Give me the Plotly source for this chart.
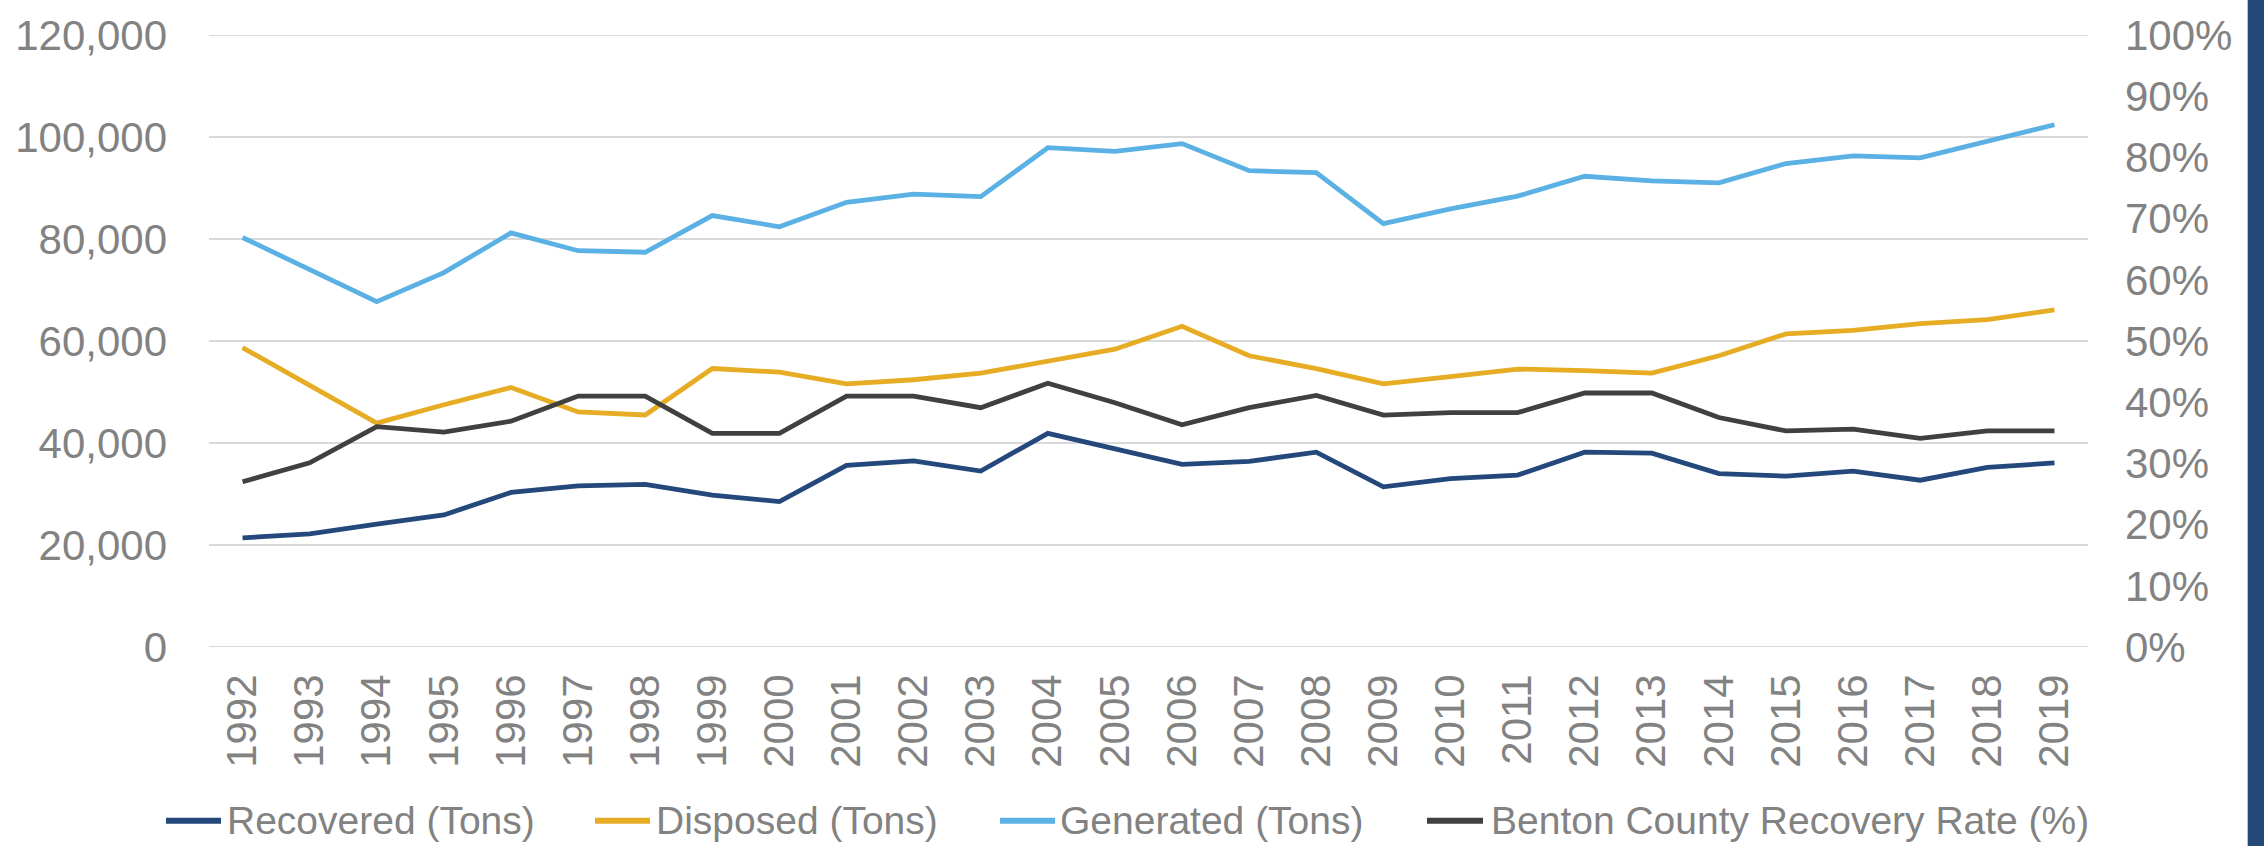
import plotly.graph_objects as go

# ---- data ----
years = ["1992", "1993", "1994", "1995", "1996", "1997", "1998", "1999", "2000",
         "2001", "2002", "2003", "2004", "2005", "2006", "2007", "2008", "2009",
         "2010", "2011", "2012", "2013", "2014", "2015", "2016", "2017", "2018", "2019"]

recovered = [21400, 22200, 24100, 25900, 30300, 31600, 31900, 29800, 28500, 35600,
             36500, 34500, 41900, 38800, 35800, 36400, 38200, 31400, 33000, 33700,
             38200, 38000, 34000, 33500, 34500, 32700, 35200, 36100]
disposed = [58700, 51400, 43900, 47500, 50900, 46100, 45500, 54600, 53900, 51600,
            52400, 53700, 56100, 58400, 62900, 57100, 54600, 51600, 53000, 54500,
            54200, 53700, 57100, 61400, 62100, 63400, 64200, 66100]
generated = [80300, 73900, 67700, 73400, 81200, 77700, 77400, 84600, 82400, 87200,
             88800, 88300, 97900, 97200, 98700, 93400, 93000, 83000, 85900, 88400,
             92300, 91400, 91000, 94800, 96300, 95900, 99200, 102400]
rate = [0.270, 0.301, 0.360, 0.351, 0.369, 0.410, 0.410, 0.349, 0.349, 0.410,
        0.410, 0.391, 0.431, 0.399, 0.363, 0.391, 0.411, 0.379, 0.383, 0.383,
        0.415, 0.415, 0.375, 0.353, 0.356, 0.341, 0.353, 0.353]

series_names = ["Recovered (Tons)", "Disposed (Tons)", "Generated (Tons)",
                "Benton County Recovery Rate (%)"]
colors = ["#24487C", "#E5AC24", "#5BB1E3", "#404040"]

y_min, y_max, y_step = 0, 120000, 20000

# ---- layout geometry ----
W, H = 2264, 846
ML, MR, MT, MB = 209, 176, 27, 199
PW, PH = W - ML - MR, H - MT - MB

def px_x(px):
    return (px - ML) / PW

def px_y(py):
    return (H - MB - py) / PH

TICK_FONT = dict(family="Liberation Sans, Arial, sans-serif", size=42, color="#828282")
LEG_FONT = dict(family="Liberation Sans, Arial, sans-serif", size=39, color="#828282")
GRID = "#D9D9D9"
LW = 4.8

fig = go.Figure()
tons = [recovered, disposed, generated]
for name, col, vals in zip(series_names[:3], colors[:3], tons):
    fig.add_trace(go.Scatter(x=years, y=vals, mode="lines", name=name,
                             line=dict(color=col, width=LW), showlegend=False,
                             yaxis="y"))
fig.add_trace(go.Scatter(x=years, y=rate, mode="lines", name=series_names[3],
                         line=dict(color=colors[3], width=LW), showlegend=False,
                         yaxis="y2"))

shapes = []
annotations = []

# edge gridlines (plotly skips grid at the exact range ends)
for v in (y_min, y_max):
    shapes.append(dict(type="line", xref="paper", yref="y", x0=0, x1=1, y0=v, y1=v,
                       line=dict(color=GRID, width=2), layer="below"))

# manual legend (sample line + text)
legend_items = [(166, 221, 225), (595, 650, 654), (1000, 1055, 1058), (1427, 1483, 1489)]
ly = px_y(823)
for (x0, x1, tx), name, col in zip(legend_items, series_names, colors):
    shapes.append(dict(type="line", xref="paper", yref="paper",
                       x0=px_x(x0), x1=px_x(x1), y0=ly, y1=ly,
                       line=dict(color=col, width=6)))
    annotations.append(dict(xref="paper", yref="paper", x=px_x(tx), y=ly,
                            xanchor="left", yanchor="middle", showarrow=False,
                            text=name, font=LEG_FONT))

# right-hand dark band
shapes.append(dict(type="rect", xref="paper", yref="paper",
                   x0=px_x(2248), x1=px_x(2270), y0=px_y(860), y1=px_y(-20),
                   fillcolor="#24477A", line=dict(width=0), layer="above"))
shapes.append(dict(type="line", xref="paper", yref="paper",
                   x0=px_x(2247.5), x1=px_x(2247.5), y0=px_y(860), y1=px_y(-20),
                   line=dict(color="#BFBFBF", width=1)))

fig.update_layout(
    width=W, height=H, autosize=False,
    margin=dict(l=ML, r=MR, t=MT, b=MB, pad=0),
    paper_bgcolor="white", plot_bgcolor="white",
    showlegend=False,
    xaxis=dict(type="category", range=[-0.5, len(years) - 0.5],
               tickangle=-90, tickfont=TICK_FONT, showgrid=False,
               showline=False, zeroline=False, ticks="", ticklabelstandoff=18),
    yaxis=dict(range=[y_min, y_max], dtick=y_step, tickformat=",",
               tickfont=TICK_FONT, showgrid=True, gridcolor=GRID, gridwidth=2,
               zeroline=False, showline=False, ticks="", ticklabelstandoff=41),
    yaxis2=dict(range=[0, 1], dtick=0.1, tickformat=".0%", overlaying="y",
                side="right", tickfont=TICK_FONT, showgrid=False, zeroline=False,
                showline=False, ticks="", ticklabelstandoff=36),
    shapes=shapes,
    annotations=annotations,
)

fig.write_html("out.html",
               config={"displayModeBar": False},
               post_script="document.body.style.margin='0';document.body.style.overflow='hidden';")
